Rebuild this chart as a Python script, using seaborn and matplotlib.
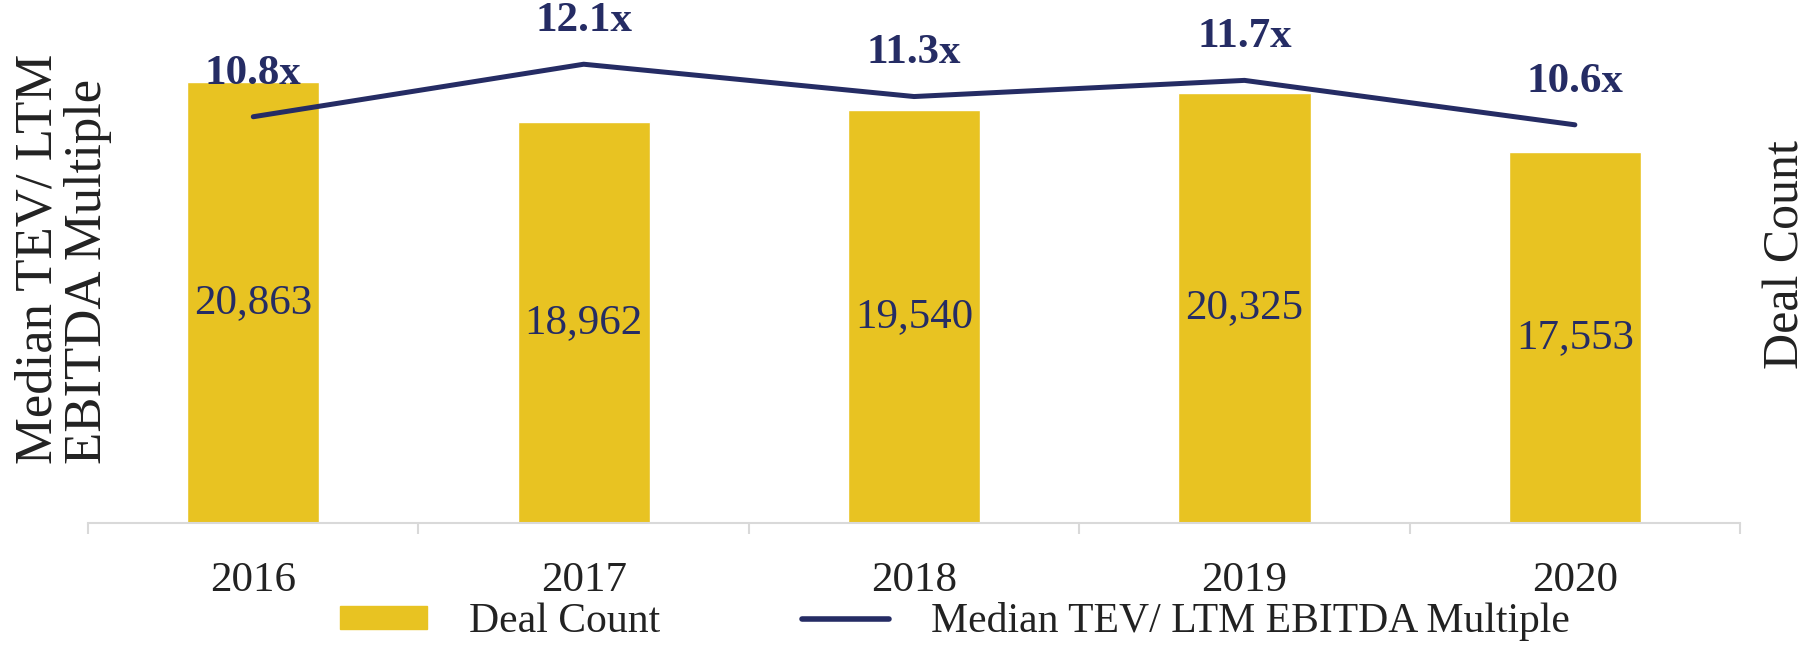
import numpy as np
import pandas as pd
import seaborn as sns
import matplotlib.pyplot as plt
from matplotlib.patches import Patch
from matplotlib.lines import Line2D

# data
years = ["2016", "2017", "2018", "2019", "2020"]
deal_count = [20863, 18962, 19540, 20325, 17553]
multiple = [10.8, 12.1, 11.3, 11.7, 10.6]

df = pd.DataFrame({"Year": years, "Deals": deal_count, "Multiple": multiple})

gold = "#E8C322"
navy = "#252C64"

sns.set_theme(style="white")
plt.rcParams['font.family'] = ['Liberation Serif', 'DejaVu Serif']

fig = plt.figure(figsize=(18.12, 6.45), dpi=100)
ax = fig.add_axes([0.0486, 0.189, 0.9117, 0.811])

# bars - deal count
sns.barplot(data=df, x="Year", y="Deals", color=gold, width=0.4,
            saturation=1, ax=ax)
ax.set_ylim(0, 24740)
ax.set_xlim(-0.5, 4.5)
ax.bar_label(ax.containers[0], labels=[f"{v:,}" for v in deal_count],
             label_type="center", color=navy, fontsize=31)

# line - median multiple
ax2 = ax.twinx()
sns.pointplot(data=df, x="Year", y="Multiple", color=navy, ax=ax2,
              markers="", errorbar=None, linewidth=3.6)
for l in ax2.lines:
    l.set_solid_capstyle("round")
ax2.set_ylim(0.74, 13.69)
ax2.set_xlim(-0.5, 4.5)
for i, v in enumerate(multiple):
    ax2.annotate(f"{v}x", (i, v), xytext=(0, 31), textcoords="offset points",
                 ha="center", va="center", fontsize=31, fontweight="bold",
                 color=navy)

# axes styling
for a in (ax, ax2):
    a.set_yticks([])
    a.set_ylabel("")
    for s in ["left", "right", "top"]:
        a.spines[s].set_visible(False)
ax2.spines["bottom"].set_visible(False)
ax2.tick_params(axis="x", which="both", length=0, labelbottom=False)
ax.spines["bottom"].set_color("#D9D9D9")
ax.spines["bottom"].set_linewidth(1.5)
ax.set_xlabel("")
ax.set_xticks(np.arange(-0.5, 5, 1), minor=True)
ax.tick_params(axis="x", which="minor", length=8, width=1.5, color="#D9D9D9",
               direction="out", bottom=True)
ax.tick_params(axis="x", which="major", length=0, pad=28,
               labelsize=31, labelcolor="#222222")

fig.text(0.035, 0.598, "Median TEV/ LTM\nEBITDA Multiple", rotation=90,
         ha="center", va="center", multialignment="left", fontsize=38,
         linespacing=1.05, color="#222222")
fig.text(0.986, 0.606, "Deal Count", rotation=90, ha="center", va="center",
         fontsize=36, color="#222222")

handles = [Patch(facecolor=gold, edgecolor=gold),
           Line2D([0], [0], color=navy, linewidth=4)]
fig.legend(handles, ["Deal Count", "Median TEV/ LTM EBITDA Multiple"],
           loc="center", bbox_to_anchor=(0.527, 0.036), ncol=2, frameon=False,
           fontsize=30, handlelength=2.1, handleheight=0.45,
           handletextpad=1.0, columnspacing=3.4, labelcolor="#222222")

fig.savefig("out.png", dpi=100)
